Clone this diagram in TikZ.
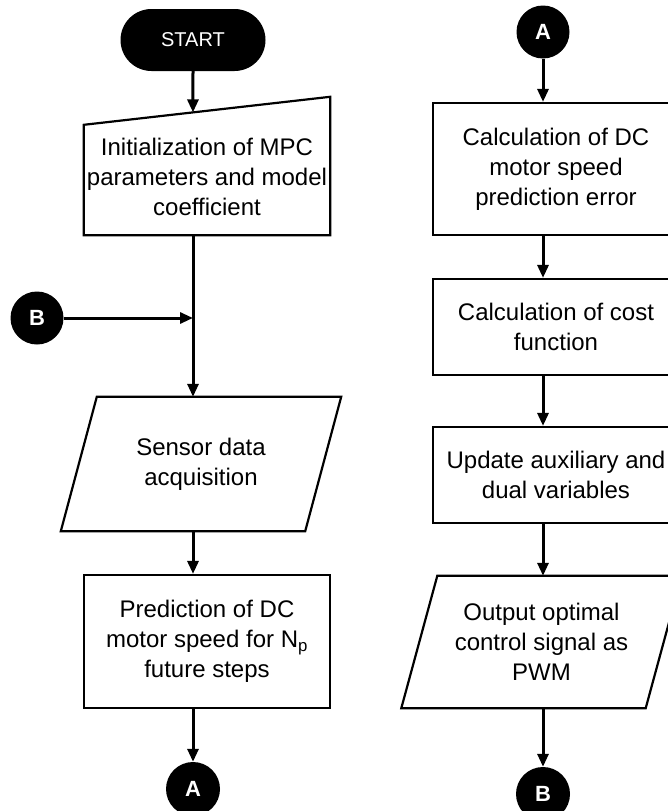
\documentclass[tikz,border=0pt]{standalone}
\usepackage{fontspec}
\setmainfont{Liberation Sans}
\usetikzlibrary{arrows.meta, calc}

\begin{document}
\begin{tikzpicture}[
    x=1pt, y=-1pt,
    font=\fontsize{24}{30}\selectfont,
    box/.style={rectangle, draw, line width=2.2pt, minimum width=246pt, align=center, inner sep=0pt},
    shell/.style={rectangle, minimum width=246pt, align=center, inner sep=0pt},
    term/.style={rectangle, rounded corners=31pt, fill=black, text=white, minimum width=145pt, minimum height=62pt, font=\fontsize{20}{24}\selectfont},
    con/.style={circle, fill=black, text=white, minimum size=54pt, inner sep=0pt, font=\fontsize{22}{24}\selectfont\bfseries},
    arr/.style={-{Triangle[length=13pt, width=11pt]}, line width=3pt},
    edge/.style={line width=2.2pt}
]
\useasboundingbox (0,0) rectangle (668,811);

% left column
\node[term] (start) at (193,40) {START};
\node[shell, minimum height=116pt] (init) at (207,177) {Initialization of MPC\\parameters and model\\coefficient};
\node[shell, minimum width=244pt, minimum height=134pt] (sensor) at (201,464) {Sensor data\\acquisition};
\node[box, minimum height=133pt] (pred) at (207,641.5) {Prediction of DC\\motor speed for N\textsubscript{p}\\future steps};
\node[con] (aout) at (193,789) {A};
\node[con, minimum size=53pt] (bin) at (37,318) {B};

% right column
\node[con, minimum size=53pt] (ain) at (543,32) {A};
\node[box, minimum height=132pt] (err) at (556,169) {Calculation of DC\\motor speed\\prediction error};
\node[box, minimum height=96pt] (cost) at (556,327) {Calculation of cost\\function};
\node[box, minimum height=96pt] (upd) at (556,475) {Update auxiliary and\\dual variables};
\node[shell, minimum width=244pt, minimum height=132pt] (output) at (541.5,642) {Output optimal\\control signal as\\PWM};
\node[con] (bout) at (543,794) {B};

% outlines of the non-rectangular blocks
\draw[edge] (init.south west) -- (init.south east) -- ([yshift=22pt]init.north east) -- ([yshift=-6pt]init.north west) -- cycle;
\foreach \n in {sensor, output} {
    \draw[edge] ([xshift=18pt]\n.north west) -- ([xshift=18pt]\n.north east)
        -- ([xshift=-18pt]\n.south east) -- ([xshift=-18pt]\n.south west) -- cycle;
}
\coordinate (inittop) at ($([yshift=-6pt]init.north west)!0.443!([yshift=22pt]init.north east)$);

% left flow
\draw[arr] (start.south) -- (inittop);
\draw[arr] (start |- init.south) -- (start |- sensor.north);
\draw[arr] (bin.east) -- (bin -| start);
\draw[arr] (start |- sensor.south) -- (start |- pred.north);
\draw[arr] (start |- pred.south) -- (aout.north);

% right flow
\draw[arr] (ain.south) -- (ain |- err.north);
\foreach \a/\b in {err/cost, cost/upd, upd/output} {
    \draw[arr] (ain |- \a.south) -- (ain |- \b.north);
}
\draw[arr] (ain |- output.south) -- (bout.north);
\end{tikzpicture}
\end{document}
